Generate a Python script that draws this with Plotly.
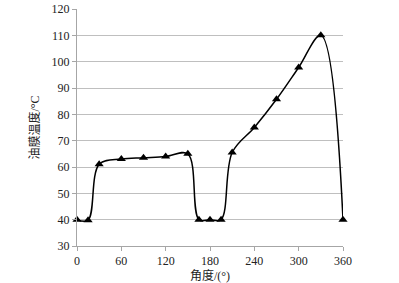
import plotly.graph_objects as go

angle = [0, 15, 30, 60, 90, 120, 150, 165, 180, 195, 210, 240, 270, 300, 330, 360]
temp = [40, 39.8, 61, 63, 63.5, 64, 65, 40, 40, 40, 65.5, 75, 85.7, 97.8, 110, 40]
x_ticks = [0, 60, 120, 180, 240, 300, 360]
y_ticks = [30, 40, 50, 60, 70, 80, 90, 100, 110, 120]

font_family = "Liberation Serif, Noto Sans CJK SC, serif"

fig = go.Figure()
fig.add_trace(go.Scatter(
    x=angle, y=temp, mode="lines+markers",
    line=dict(color="black", width=1.5, shape="spline", smoothing=1.0),
    marker=dict(symbol="triangle-up", size=8, color="black"),
    cliponaxis=False, showlegend=False,
))

fig.update_layout(
    width=399, height=283,
    margin=dict(l=77, r=56, t=9, b=37),
    paper_bgcolor="white", plot_bgcolor="white",
    font=dict(family=font_family, size=12, color="#222"),
)
fig.update_xaxes(
    range=[0, 360], tickvals=x_ticks, showgrid=False, zeroline=False,
    showline=True, linecolor="#a6a6a6", linewidth=1,
    ticks="outside", ticklen=4, tickcolor="#a6a6a6", automargin=False,
    title=dict(text="角度/(°)", font=dict(size=12), standoff=3),
)
fig.update_yaxes(
    range=[30, 120], tickvals=y_ticks, showgrid=True, gridcolor="#bfbfbf", gridwidth=1,
    zeroline=False, showline=True, linecolor="#a6a6a6", linewidth=1,
    ticks="outside", ticklen=4, tickcolor="#a6a6a6", automargin=False,
    title=dict(text="油膜温度/°C", font=dict(size=12), standoff=9),
)

# remove the browser's default page margin so the figure sits at the window origin
fig.write_html(
    "out.html",
    config={"displayModeBar": False},
    post_script="document.body.style.margin='0';document.body.style.overflow='hidden';",
)
